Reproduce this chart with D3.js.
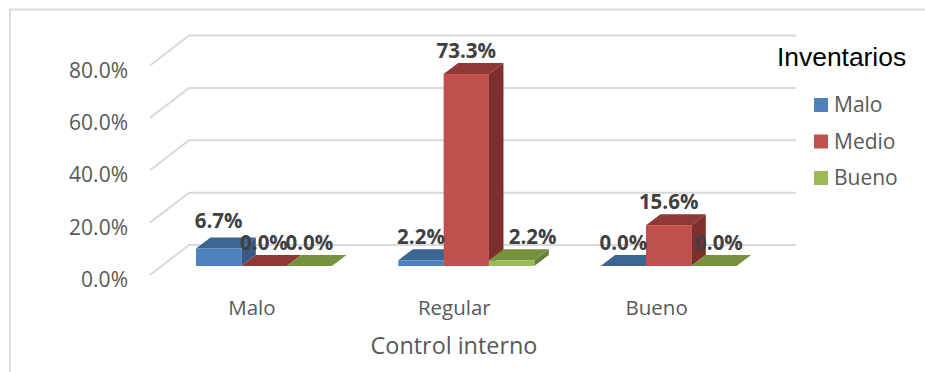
<!DOCTYPE html>
<html>
<head>
<meta charset="utf-8">
<script src="https://cdn.jsdelivr.net/npm/d3@7"></script>
<style>
  html, body { margin: 0; padding: 0; background: #fff; overflow: hidden; }
  text { font-family: "Open Sans", sans-serif; }
</style>
</head>
<body>
<script>
var categories = ["Malo", "Regular", "Bueno"];
var seriesNames = ["Malo", "Medio", "Bueno"];
var serieMalo = [6.7, 2.2, 0.0];
var serieMedio = [0.0, 73.3, 15.6];
var serieBueno = [0.0, 2.2, 0.0];
var yTicks = [0, 20, 40, 60, 80];
var axisTitle = "Control interno";
var legendTitle = "Inventarios";

var allSeries = [serieMalo, serieMedio, serieBueno];

var width = 925, height = 372;

// colores: frente, arriba, lado
var faces = [
    { front: "#4f81bd", top: "#3d6594", side: "#365a85" },
    { front: "#c0504d", top: "#8f3836", side: "#7d2f2d" },
    { front: "#9bbb59", top: "#76923c", side: "#66803a" }
];

var depthX = 14.5, depthY = 11;
var floorOffset = 9;   // the bars stand a bit behind the front edge of the floor
var wallX = 39, wallY = 30;

var svg = d3.select("body")
    .append("svg")
    .attr("width", width)
    .attr("height", height)
    .style("display", "block");

var x0 = d3.scaleBand()
    .domain(categories)
    .range([162.8, 769.8])
    .paddingInner(0.328)
    .paddingOuter(0.164);

var x1 = d3.scaleBand()
    .domain(seriesNames)
    .range([0, x0.bandwidth()]);

var y = d3.scaleLinear()
    .domain([0, 80])
    .range([275, 65.5]);

var poly = d3.line();

// Marco
svg.append("path")
    .attr("d", "M10," + height + "V9.5H" + width)
    .attr("fill", "none")
    .attr("stroke", "#dcdcdc")
    .attr("stroke-width", 2);

// Rejilla: pared del fondo y diagonal del piso
var grid = svg.append("g")
    .attr("fill", "none")
    .attr("stroke", "#d9d9d9")
    .attr("stroke-width", 2);

grid.selectAll("path")
    .data(yTicks)
    .enter()
    .append("path")
    .attr("d", function(d) {
        return poly([[150, y(d)], [150 + wallX, y(d) - wallY], [796, y(d) - wallY]]);
    });

// Eje Y
var yAxis = svg.append("g")
    .attr("transform", "translate(128,5)")
    .call(d3.axisLeft(y).tickValues(yTicks).tickSize(0).tickPadding(0)
        .tickFormat(function(d) { return d.toFixed(1) + "%"; }));

yAxis.select(".domain").remove();
yAxis.selectAll("text")
    .style("font-size", "21px")
    .style("font-family", "'Open Sans', sans-serif")
    .style("fill", "#595959");

// Barras
var bars = [];
categories.forEach(function(cat, i) {
    seriesNames.forEach(function(name, s) {
        bars.push({ cat: cat, name: name, s: s, i: i, value: allSeries[s][i] });
    });
});

function barX(d) { return x0(d.cat) + x1(d.name); }
function barBase() { return y(0) - floorOffset; }
function barTop(d) { return y(d.value) - floorOffset; }

var barGroups = svg.append("g")
    .selectAll("g")
    .data(bars)
    .enter()
    .append("g");

barGroups.append("path")
    .attr("fill", function(d) { return faces[d.s].side; })
    .attr("d", function(d) {
        var r = barX(d) + x1.bandwidth();
        return poly([[r, barBase()], [r + depthX, barBase() - depthY], [r + depthX, barTop(d) - depthY], [r, barTop(d)]]) + "Z";
    });

barGroups.append("path")
    .attr("fill", function(d) { return faces[d.s].top; })
    .attr("d", function(d) {
        var l = barX(d), r = l + x1.bandwidth();
        return poly([[l, barTop(d)], [l + depthX, barTop(d) - depthY], [r + depthX, barTop(d) - depthY], [r, barTop(d)]]) + "Z";
    });

barGroups.append("rect")
    .attr("x", barX)
    .attr("y", barTop)
    .attr("width", x1.bandwidth())
    .attr("height", function(d) { return barBase() - barTop(d); })
    .attr("fill", function(d) { return faces[d.s].front; });

// Etiquetas de datos, algunas corridas para que no choquen con las barras
function labelShiftX(d) {
    if (d.cat == "Regular" && d.name == "Bueno") return 21;
    if (d.cat == "Bueno" && d.name == "Bueno") return 5;
    return 0;
}

function labelShiftY(d) {
    if (d.cat == "Malo" && d.name == "Malo") return -4;
    return 0;
}

svg.append("g")
    .selectAll("text")
    .data(bars)
    .enter()
    .append("text")
    .attr("x", function(d) { return barX(d) + x1.bandwidth() / 2 + labelShiftX(d); })
    .attr("y", function(d) { return barTop(d) - 16 + labelShiftY(d); })
    .attr("text-anchor", "middle")
    .style("font-size", "20.5px")
    .style("font-weight", "700")
    .style("fill", "#404040")
    .text(function(d) { return d.value.toFixed(1) + "%"; });

// Categorias
svg.append("g")
    .selectAll("text")
    .data(categories)
    .enter()
    .append("text")
    .attr("x", function(d) { return x0(d) + x0.bandwidth() / 2 - 12; })
    .attr("y", 315)
    .attr("text-anchor", "middle")
    .style("font-size", "20.5px")
    .style("fill", "#595959")
    .text(function(d) { return d; });

// Titulo del eje
svg.append("text")
    .attr("x", 454)
    .attr("y", 354)
    .attr("text-anchor", "middle")
    .style("font-size", "23.4px")
    .style("fill", "#595959")
    .text(axisTitle);

// Leyenda
svg.append("text")
    .attr("x", 777)
    .attr("y", 66)
    .style("font-family", "'Liberation Sans', sans-serif")
    .style("font-size", "26.4px")
    .style("fill", "#000")
    .text(legendTitle);

var legend = svg.append("g")
    .selectAll("g")
    .data(seriesNames)
    .enter()
    .append("g")
    .attr("transform", function(d, i) { return "translate(814," + (98 + i * 36.5) + ")"; });

legend.append("rect")
    .attr("width", 14)
    .attr("height", 14)
    .attr("fill", function(d, i) { return faces[i].front; });

legend.append("text")
    .attr("x", 20)
    .attr("y", 14)
    .style("font-size", "21px")
    .style("fill", "#595959")
    .text(function(d) { return d; });
</script>
</body>
</html>
